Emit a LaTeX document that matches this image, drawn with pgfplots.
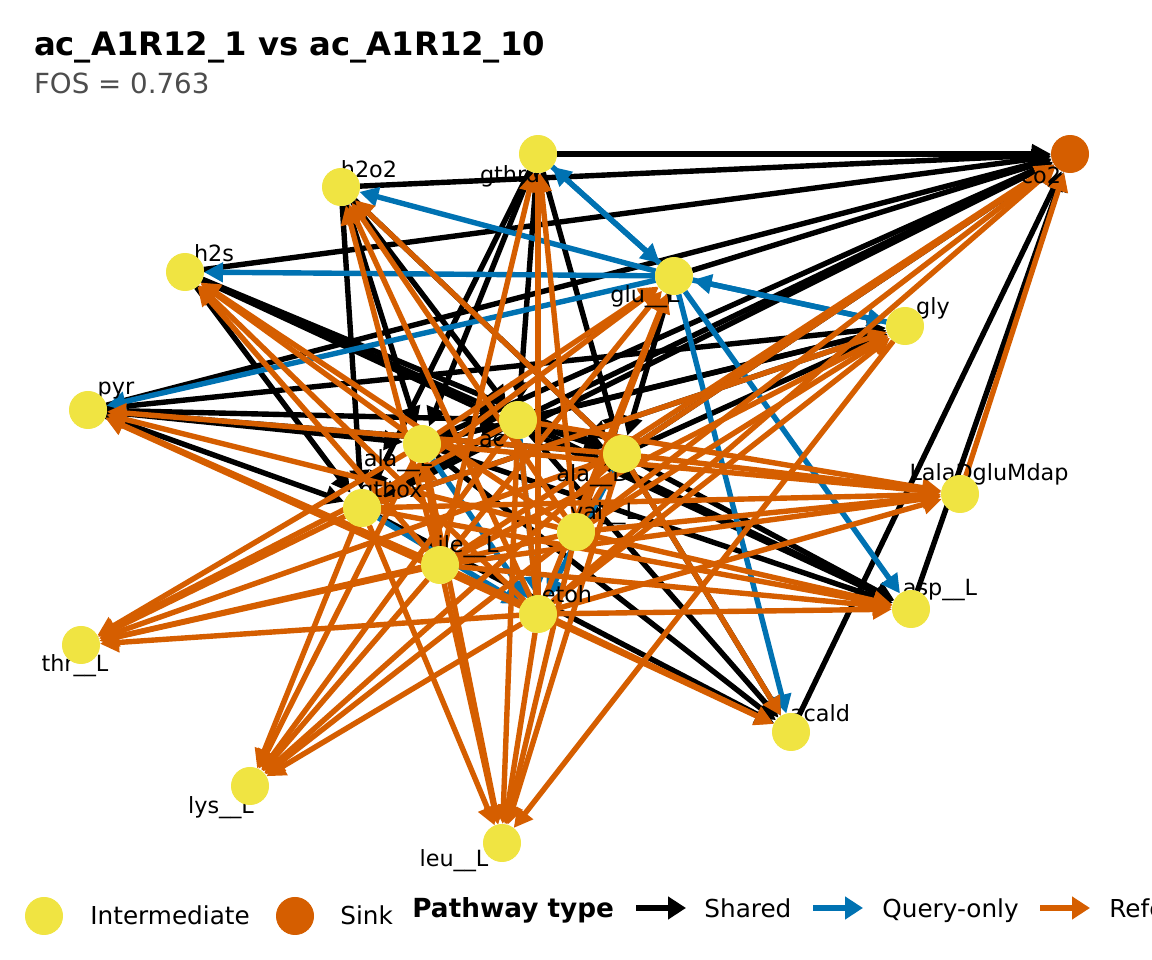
\documentclass[border=0pt]{standalone}
\usepackage{fontspec}
\setmainfont{DejaVu Sans}
\usepackage{pgfplots}
\pgfplotsset{compat=1.18}
\usetikzlibrary{arrows.meta}

\definecolor{nodeyellow}{HTML}{F0E442}
\definecolor{rorange}{HTML}{D55E00}
\definecolor{qblue}{HTML}{0072B2}
\definecolor{subgray}{HTML}{4D4D4D}

% node positions (pixels, y down)
\def\ndG{(538,154)}   % gthrd
\def\ndC{(1070,154)}  % co2
\def\ndHO{(341,187)}  % h2o2
\def\ndHS{(185,272)}  % h2s
\def\ndGL{(674,276)}  % glu__L
\def\ndGY{(905,326)}  % gly
\def\ndP{(88,410)}    % pyr
\def\ndAC{(518,420)}  % ac
\def\ndAL{(422,444)}  % ala__L
\def\ndAD{(622,454)}  % ala__D
\def\ndLD{(960,494)}  % LalaDgluMdap
\def\ndGX{(362,508)}  % gthox
\def\ndV{(576,532)}   % val__L
\def\ndI{(440,565)}   % ile__L
\def\ndE{(538,614)}   % etoh
\def\ndAS{(911,609)}  % asp__L
\def\ndT{(81,645)}    % thr__L
\def\ndAA{(791,732)}  % acald
\def\ndLY{(250,786)}  % lys__L
\def\ndLE{(502,843)}  % leu__L

\newcommand{\edge}[3]{\addplot[#1] coordinates {#2 #3};}

\pgfplotsset{
  edge/.style={line width=2.7bp, -{Triangle[length=9.5bp,width=9.5bp]},
    shorten >=9.5bp, shorten <=9.5bp},
  sh/.style={edge, black},
  qo/.style={edge, qblue},
  ro/.style={edge, rorange},
  legarrow/.style={line width=3bp, -{Triangle[length=9bp,width=11bp]}},
  dot/.style={only marks, mark=*, mark size=9.3bp,
    mark options={draw=#1, fill=#1}},
}

\begin{document}
\begin{tikzpicture}
\begin{axis}[
  scale only axis, width=576bp, height=480bp,
  xmin=0, xmax=1152, ymin=0, ymax=960, y dir=reverse,
  hide axis, clip=false,
  every node/.style={inner sep=0pt},
]
\coordinate (SW) at (axis cs:0,960);
\coordinate (NE) at (axis cs:1152,0);

% shared pathways
\edge{sh}{\ndG}{\ndC}
\edge{sh}{\ndHO}{\ndC}
\edge{sh}{\ndHS}{\ndC}
\edge{sh}{\ndGL}{\ndC}
\edge{sh}{\ndP}{\ndC}
\edge{sh}{\ndAL}{\ndC}
\edge{sh}{\ndAC}{\ndC}
\edge{sh}{\ndAD}{\ndC}
\edge{sh}{\ndGX}{\ndC}
\edge{sh}{\ndAA}{\ndC}
\edge{sh}{\ndAS}{\ndC}
\edge{sh}{\ndG}{\ndAL}
\edge{sh}{\ndG}{\ndGX}
\edge{sh}{\ndG}{\ndAC}
\edge{sh}{\ndG}{\ndAD}
\edge{sh}{\ndHO}{\ndGX}
\edge{sh}{\ndHO}{\ndAL}
\edge{sh}{\ndHO}{\ndAC}
\edge{sh}{\ndHO}{\ndAD}
\edge{sh}{\ndHS}{\ndAC}
\edge{sh}{\ndHS}{\ndAD}
\edge{sh}{\ndHS}{\ndAS}
\edge{sh}{\ndHS}{\ndGX}
\edge{sh}{\ndP}{\ndGY}
\edge{sh}{\ndP}{\ndAL}
\edge{sh}{\ndP}{\ndAC}
\edge{sh}{\ndP}{\ndAD}
\edge{sh}{\ndP}{\ndGX}
\edge{sh}{\ndGL}{\ndAD}
\edge{sh}{\ndAL}{\ndGY}
\edge{sh}{\ndAC}{\ndGY}
\edge{sh}{\ndGX}{\ndGY}
\edge{sh}{\ndAD}{\ndGY}
\edge{sh}{\ndAL}{\ndAS}
\edge{sh}{\ndAC}{\ndAS}
\edge{sh}{\ndAD}{\ndAS}
\edge{sh}{\ndAL}{\ndAA}
\edge{sh}{\ndAC}{\ndAA}
\edge{sh}{\ndGX}{\ndAA}
\edge{sh}{\ndAD}{\ndAA}
\edge{sh}{\ndAL}{\ndAC}
\edge{sh}{\ndAC}{\ndAD}
\edge{sh}{\ndAC}{\ndGX}

% query-only pathways
\edge{qo}{\ndGL}{\ndG}
\edge{qo}{\ndG}{\ndGL}
\edge{qo}{\ndGL}{\ndHO}
\edge{qo}{\ndGL}{\ndHS}
\edge{qo}{\ndGL}{\ndGY}
\edge{qo}{\ndGY}{\ndGL}
\edge{qo}{\ndGL}{\ndP}
\edge{qo}{\ndGL}{\ndAS}
\edge{qo}{\ndGL}{\ndAA}
\edge{qo}{\ndAL}{\ndE}
\edge{qo}{\ndAC}{\ndE}
\edge{qo}{\ndGX}{\ndE}
\edge{qo}{\ndAD}{\ndE}

% reference-only pathways
\edge{ro}{\ndI}{\ndC}
\edge{ro}{\ndE}{\ndC}
\edge{ro}{\ndV}{\ndC}
\edge{ro}{\ndLD}{\ndC}
\edge{ro}{\ndAD}{\ndC}
\edge{ro}{\ndI}{\ndG}
\edge{ro}{\ndE}{\ndG}
\edge{ro}{\ndV}{\ndG}
\edge{ro}{\ndI}{\ndHO}
\edge{ro}{\ndE}{\ndHO}
\edge{ro}{\ndV}{\ndHO}
\edge{ro}{\ndAD}{\ndHO}
\edge{ro}{\ndAL}{\ndHS}
\edge{ro}{\ndI}{\ndHS}
\edge{ro}{\ndE}{\ndHS}
\edge{ro}{\ndV}{\ndHS}
\edge{ro}{\ndGX}{\ndGL}
\edge{ro}{\ndAL}{\ndGL}
\edge{ro}{\ndI}{\ndGL}
\edge{ro}{\ndE}{\ndGL}
\edge{ro}{\ndV}{\ndGL}
\edge{ro}{\ndGX}{\ndGY}
\edge{ro}{\ndI}{\ndGY}
\edge{ro}{\ndE}{\ndGY}
\edge{ro}{\ndV}{\ndGY}
\edge{ro}{\ndI}{\ndP}
\edge{ro}{\ndE}{\ndP}
\edge{ro}{\ndV}{\ndP}
\edge{ro}{\ndAD}{\ndP}
\edge{ro}{\ndAL}{\ndT}
\edge{ro}{\ndAC}{\ndT}
\edge{ro}{\ndAD}{\ndT}
\edge{ro}{\ndGX}{\ndT}
\edge{ro}{\ndV}{\ndT}
\edge{ro}{\ndE}{\ndT}
\edge{ro}{\ndI}{\ndT}
\edge{ro}{\ndGX}{\ndLY}
\edge{ro}{\ndAL}{\ndLY}
\edge{ro}{\ndAC}{\ndLY}
\edge{ro}{\ndI}{\ndLY}
\edge{ro}{\ndE}{\ndLY}
\edge{ro}{\ndV}{\ndLY}
\edge{ro}{\ndAD}{\ndLY}
\edge{ro}{\ndAL}{\ndLE}
\edge{ro}{\ndGX}{\ndLE}
\edge{ro}{\ndAC}{\ndLE}
\edge{ro}{\ndI}{\ndLE}
\edge{ro}{\ndE}{\ndLE}
\edge{ro}{\ndV}{\ndLE}
\edge{ro}{\ndAD}{\ndLE}
\edge{ro}{\ndGY}{\ndLE}
\edge{ro}{\ndGX}{\ndLD}
\edge{ro}{\ndAL}{\ndLD}
\edge{ro}{\ndAC}{\ndLD}
\edge{ro}{\ndI}{\ndLD}
\edge{ro}{\ndE}{\ndLD}
\edge{ro}{\ndV}{\ndLD}
\edge{ro}{\ndAD}{\ndLD}
\edge{ro}{\ndGX}{\ndAS}
\edge{ro}{\ndI}{\ndAS}
\edge{ro}{\ndE}{\ndAS}
\edge{ro}{\ndV}{\ndAS}
\edge{ro}{\ndE}{\ndAA}
\edge{ro}{\ndAD}{\ndAA}
\edge{ro}{\ndI}{\ndAA}
\edge{ro}{\ndI}{\ndAL}
\edge{ro}{\ndE}{\ndAC}
\edge{ro}{\ndV}{\ndAD}

% nodes
\addplot[dot=nodeyellow]
  coordinates {\ndG \ndHO \ndHS \ndGL \ndGY \ndP \ndAC \ndAL \ndAD \ndLD
               \ndGX \ndV \ndI \ndE \ndAS \ndT \ndAA \ndLY \ndLE};
\addplot[dot=rorange] coordinates {\ndC};

% node labels
\begin{scope}[every node/.style={font=\fontsize{11.2}{13}\selectfont, inner sep=0pt}]
\node at (axis cs:510,176) {gthrd};
\node at (axis cs:1041,175) {co2};
\node at (axis cs:369,169) {h2o2};
\node at (axis cs:214,253) {h2s};
\node at (axis cs:645,297) {glu\_\_L};
\node at (axis cs:933,308) {gly};
\node at (axis cs:116,391) {pyr};
\node at (axis cs:492,440) {ac};
\node at (axis cs:398,461) {ala\_\_L};
\node at (axis cs:593,476) {ala\_\_D};
\node at (axis cs:989,474) {LalaDgluMdap};
\node at (axis cs:391,491) {gthox};
\node at (axis cs:604,514) {val\_\_L};
\node at (axis cs:468,547) {ile\_\_L};
\node at (axis cs:567,594) {etoh};
\node at (axis cs:940,590) {asp\_\_L};
\node at (axis cs:75,666) {thr\_\_L};
\node at (axis cs:820,713) {acald};
\node at (axis cs:221,808) {lys\_\_L};
\node at (axis cs:454,861) {leu\_\_L};
\end{scope}

% title
\node[anchor=base west, font=\bfseries\fontsize{16.2}{19}\selectfont] at (axis cs:27,55) {ac\_A1R12\_1 vs ac\_A1R12\_10};
\node[anchor=base west, text=subgray, font=\fontsize{13.9}{16}\selectfont] at (axis cs:27,93) {FOS = 0.763};

% legend
\addplot[dot=nodeyellow] coordinates {(44,916)};
\addplot[dot=rorange] coordinates {(295,916)};
\addplot[legarrow, black] coordinates {(636,908) (686,908)};
\addplot[legarrow, qblue] coordinates {(813,908) (863,908)};
\addplot[legarrow, rorange] coordinates {(1040,908) (1090,908)};
\begin{scope}[every node/.style={anchor=base west, inner sep=0pt, font=\fontsize{12.4}{14}\selectfont}]
\node at (axis cs:90,925) {Intermediate};
\node at (axis cs:340,925) {Sink};
\node[font=\bfseries\fontsize{13.2}{15}\selectfont] at (axis cs:412,918) {Pathway type};
\node at (axis cs:704,918) {Shared};
\node at (axis cs:882,918) {Query-only};
\node at (axis cs:1109,918) {Reference-only};
\end{scope}
\end{axis}
\pgfresetboundingbox
\useasboundingbox (SW) rectangle (NE);
\end{tikzpicture}
\end{document}
